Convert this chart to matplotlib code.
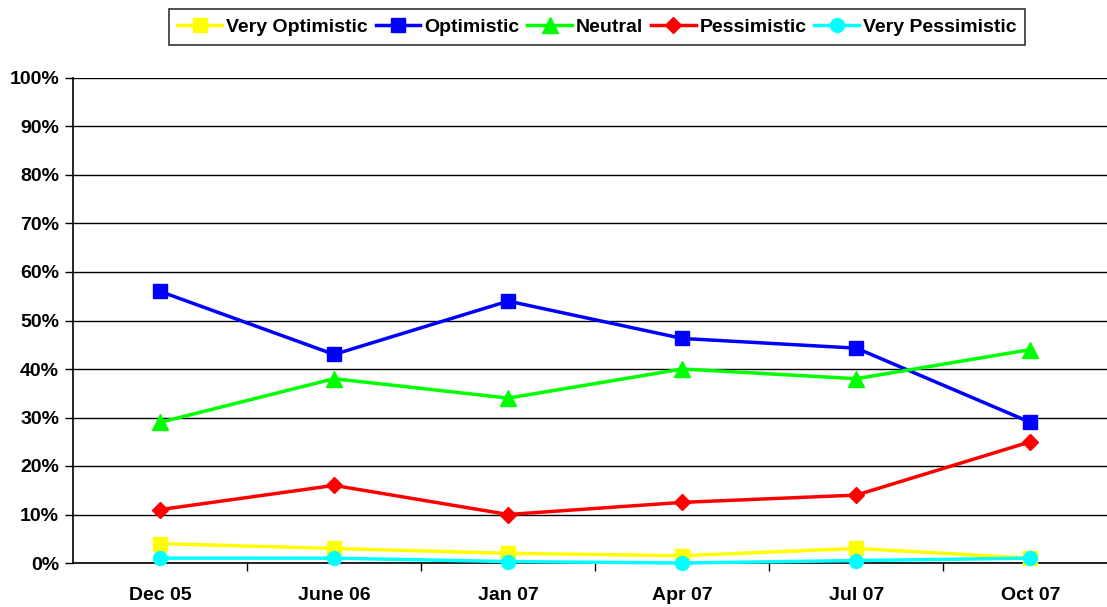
import matplotlib.pyplot as plt
import numpy as np

plt.rcParams['font.family'] = ['Liberation Sans', 'DejaVu Sans']
plt.rcParams['font.weight'] = 'bold'

fechas = ["Dec 05", "June 06", "Jan 07", "Apr 07", "Jul 07", "Oct 07"]

muy_optimista = [4, 3, 2, 1.5, 3, 1]
optimista = [56, 43, 54, 46.3, 44.3, 29]
neutral = [29, 38, 34, 40, 38, 44]
pesimista = [11, 16, 10, 12.5, 14, 25]
muy_pesimista = [1, 1, 0.3, 0, 0.5, 1]

series = [
    ("Very Optimistic", muy_optimista, "#FFFF00", "s", 10),
    ("Optimistic", optimista, "#0000FF", "s", 10),
    ("Neutral", neutral, "#00FF00", "^", 11),
    ("Pessimistic", pesimista, "#FF0000", "D", 8),
    ("Very Pessimistic", muy_pesimista, "#00FFFF", "o", 10),
]

fig = plt.figure(figsize=(11.07, 6.07), dpi=100)
ax = fig.add_axes([73 / 1107, 1 - 563 / 607, 1 - 73 / 1107, (563 - 78) / 607])

x = np.arange(len(fechas))
for nombre, valores, color, marcador, tam in series:
    ax.plot(x, valores, color=color, marker=marcador, markersize=tam,
            linewidth=2.5, label=nombre, clip_on=False, zorder=3)

# ejes y cuadricula
ax.set_ylim(0, 100)
ax.set_xlim(-0.5, 5.44)
ax.set_yticks(np.arange(0, 101, 10))
ax.set_yticklabels([f"{v}%" for v in range(0, 101, 10)], fontsize=14, fontweight='bold')
ax.set_xticks(x)
ax.set_xticklabels(fechas, fontsize=14, fontweight='bold')
ax.set_xticks(np.arange(0.5, 5.0, 1), minor=True)
ax.tick_params(axis='x', which='major', length=0, pad=17)
ax.tick_params(axis='x', which='minor', length=6, width=1, color='black', direction='out')
ax.tick_params(axis='y', length=6, width=1, direction='out', pad=4)
ax.grid(axis='y', color='black', linewidth=1)
ax.set_axisbelow(True)
for lado in ['top', 'right']:
    ax.spines[lado].set_visible(False)
for lado in ['left', 'bottom']:
    ax.spines[lado].set_linewidth(1.2)

leg = fig.legend(loc='center', bbox_to_anchor=(597 / 1107, 1 - 27 / 607), ncol=5,
                 prop={'size': 14, 'weight': 'bold'}, frameon=True, fancybox=False,
                 edgecolor='black', handlelength=2.3, handletextpad=0.2,
                 columnspacing=0.4, borderpad=0.45, markerscale=1.0)
leg.get_frame().set_linewidth(1.2)

fig.savefig("out.png", dpi=100)
